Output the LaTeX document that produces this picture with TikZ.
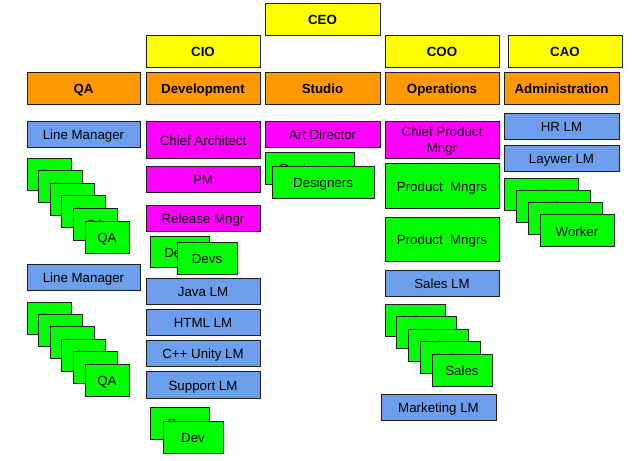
\documentclass[tikz,border=0pt]{standalone}
\usepackage{fontspec}
\setmainfont{Liberation Sans}
\definecolor{edge}{HTML}{202020}
\definecolor{cyellow}{HTML}{FFFF00}
\definecolor{corange}{HTML}{FF9900}
\definecolor{cblue}{HTML}{6D9EEB}
\definecolor{cmag}{HTML}{FF00FF}
\definecolor{cgreen}{HTML}{00FF00}
\tikzset{
  basebox/.style={draw=edge, line width=0.9pt, inner sep=0pt, align=center,
    font=\fontsize{13.3}{15.5}\selectfont},
  box/.style={basebox, text height=11.1pt, text depth=0pt},
  execbox/.style={box, fill=cyellow, font=\bfseries\fontsize{13.3}{15.5}\selectfont},
  deptbox/.style={box, fill=corange, font=\bfseries\fontsize{13.3}{15.5}\selectfont},
  lmbox/.style={box, fill=cblue},
  leadbox/.style={box, fill=cmag},
  leadtwobox/.style={basebox, fill=cmag},
  staffbox/.style={box, fill=cgreen},
  plaintext/.style={inner sep=0pt, align=center, font=\fontsize{13.3}{16}\selectfont},
}
% \obox{name}{x1}{y1}{x2}{y2}{style}{text}
\newcommand\obox[7]{%
  \node[#6, minimum width={(#4-#2)*1pt}, minimum height={(#5-#3)*1pt}]
    (#1) at ({(#2+#4)/2},{(#3+#5)/2}) {#7};}
% \ostack{prefix}{x0}{y0}{w}{h}{dx}{dy}{n}{text}
\newcommand\ostack[9]{%
  \foreach \k in {1,...,#8}{%
    \pgfmathsetmacro\xa{#2+(\k-1)*#6}%
    \pgfmathsetmacro\ya{#3+(\k-1)*#7}%
    \pgfmathsetmacro\xb{\xa+#4}%
    \pgfmathsetmacro\yb{\ya+#5}%
    \obox{#1\k}{\xa}{\ya}{\xb}{\yb}{staffbox}{#9}
  }}
\begin{document}
\begin{tikzpicture}[x=1pt,y=-1pt]
\useasboundingbox (0,0) rectangle (644,460);
% executives
\obox{ceo}{265}{3}{380}{35}{execbox}{CEO}
\obox{cio}{146}{35}{260}{67}{execbox}{CIO}
\obox{coo}{385}{35}{499}{67}{execbox}{COO}
\obox{cao}{508}{35}{622}{67}{execbox}{CAO}
% departments
\obox{qa}{27}{72}{140}{104}{deptbox}{QA}
\obox{dev}{146}{72}{260}{104}{deptbox}{Development}
\obox{studio}{265}{72}{380}{104}{deptbox}{Studio}
\obox{ops}{385}{72}{499}{104}{deptbox}{Operations}
\obox{admin}{504}{72}{619}{104}{deptbox}{Administration}
% QA column
\obox{qalm1}{27}{121}{140}{147}{lmbox}{Line Manager}
\ostack{qaa}{27}{158}{44}{32}{11.6}{12.6}{6}{QA}
\obox{qalm2}{27}{264}{140}{290}{lmbox}{Line Manager}
\ostack{qab}{27}{302}{44}{32}{11.6}{12.4}{6}{QA}
% Development column
\obox{chiefarch}{146}{121}{260}{158}{leadbox}{Chief Architect}
\obox{pm}{146}{166}{260}{192}{leadbox}{PM}
\obox{relmgr}{146}{205}{260}{231}{leadbox}{Release Mngr}
\obox{devsa}{150}{236}{209}{267}{staffbox}{Devs}
\obox{devsb}{177}{242}{237}{274}{staffbox}{Devs}
\obox{javalm}{146}{278}{260}{304}{lmbox}{Java LM}
\obox{htmllm}{146}{309}{260}{335}{lmbox}{HTML LM}
\obox{cpplm}{146}{340}{260}{366}{lmbox}{C++ Unity LM}
\obox{supportlm}{146}{371}{260}{398}{lmbox}{Support LM}
\obox{deva}{150}{407}{209}{439}{staffbox}{Dev}
\obox{devb}{163}{421}{223}{453}{staffbox}{Dev}
% Studio column
\obox{artdir}{265}{121}{380}{147}{leadbox}{Art Director}
\obox{desa}{265}{152}{354}{184}{staffbox}{Designers}
\obox{desb}{272}{166}{374}{198}{staffbox}{Designers}
% Operations column
\obox{cpm}{385}{121}{499}{158}{leadtwobox}{}
\node[plaintext] (cpmtext) at ([yshift=-1.5pt]cpm.center) {Chief Product\\Mngr};
\obox{pma}{385}{163}{499}{208}{staffbox}{Product~ Mngrs}
\obox{pmb}{385}{217}{499}{261}{staffbox}{Product~ Mngrs}
\obox{saleslm}{385}{270}{499}{296}{lmbox}{Sales LM}
\ostack{sales}{385}{304}{60}{32}{11.75}{12.5}{5}{Sales}
\obox{mktlm}{381}{394}{496}{420}{lmbox}{Marketing LM}
% Administration column
\obox{hrlm}{504}{113}{619}{139}{lmbox}{HR LM}
\obox{lawlm}{504}{145}{619}{171}{lmbox}{Laywer LM}
\ostack{worker}{504}{178}{74}{32}{12}{12.3}{4}{Worker}
\end{tikzpicture}
\end{document}
